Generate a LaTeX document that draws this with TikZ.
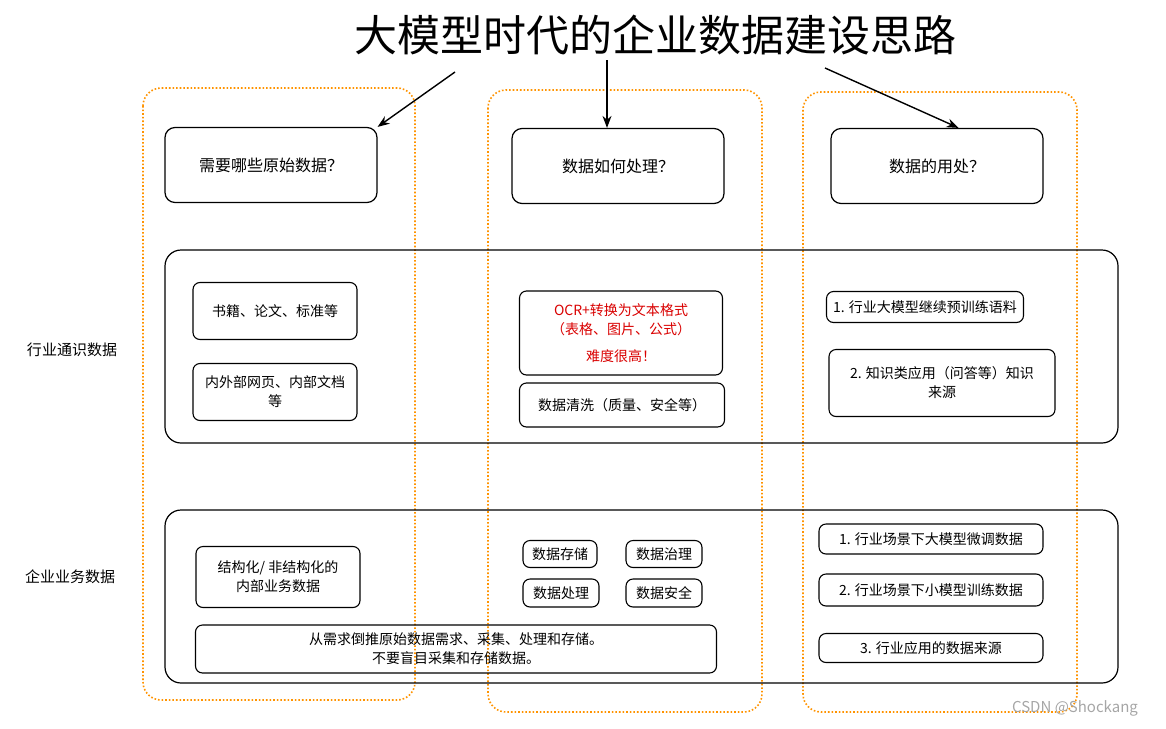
\documentclass[tikz,border=0pt]{standalone}
\usepackage{fontspec}
\setmainfont{Noto Sans CJK SC}
\usetikzlibrary{arrows.meta}

\begin{document}
\begin{tikzpicture}[x=1pt,y=-1pt]
	\tikzstyle{column} = [draw=orange!85!yellow, line width=1.6pt, dotted, rounded corners=18pt]
	\tikzstyle{header} = [draw=black, line width=1.2pt, rounded corners=10pt, font=\fontsize{16}{19}\selectfont]
	\tikzstyle{row} = [draw=black, line width=1.2pt, rounded corners=16pt]
	\tikzstyle{item} = [draw=black, line width=1.1pt, rounded corners=7pt, align=center, font=\fontsize{14}{19}\selectfont]
	\tikzstyle{hard} = [item, text=red!85!black]
	\tikzstyle{rowlabel} = [font=\fontsize{15}{18}\selectfont]
	\tikzstyle{arrow} = [line width=1.4pt, -{Stealth[length=12pt,width=9pt]}]
	\useasboundingbox (0,0) rectangle (1166,728);
	% title and columns
	\node (title) at (655,35) {\fontsize{43}{48}\selectfont 大模型时代的企业数据建设思路};
	\draw [column] (143,88) rectangle (415,700);
	\draw [column] (488,90) rectangle (762,712);
	\draw [column] (803,92) rectangle (1077,712);
	\coordinate (t1) at (455,72);
	\coordinate (t2) at (607,60);
	\coordinate (t3) at (825,68);
	% headers
	\node (needRaw) [header, minimum width=212pt, minimum height=75pt] at (271,165) {需要哪些原始数据？};
	\node (howProc) [header, minimum width=212pt, minimum height=75pt] at (618,166) {数据如何处理？};
	\node (useData) [header, minimum width=212pt, minimum height=75pt] at (937,166) {数据的用处？};
	\draw [arrow] (t1) -- (needRaw.north east);
	\draw [arrow] (t2) -- (howProc.north -| t2);
	\draw [arrow] (t3) -- ([xshift=-85pt]useData.north east);
	% rows
	\draw [row] (165,250) rectangle (1118,443);
	\draw [row] (165,510) rectangle (1118,683);
	\node (generalData) [rowlabel] at (72,350) {行业通识数据};
	\node (bizData) [rowlabel] at (70,577) {企业业务数据};
	% row 1
	\node (books) [item, minimum width=164pt, minimum height=57pt] at (275,311) {书籍、论文、标准等};
	\node (webDocs) [item, minimum width=164pt, minimum height=57pt] at (275,392) {内外部网页、内部文档\\等};
	\node (ocr) [hard, minimum width=203pt, minimum height=84pt] at (621,333) {OCR+转换为文本格式\\（表格、图片、公式）\\[8pt]难度很高！};
	\node (clean) [item, minimum width=205pt, minimum height=44pt] at (622,405) {数据清洗（质量、安全等）};
	\node (pretrain) [item, minimum width=197pt, minimum height=31pt] at (925,307) {1. 行业大模型继续预训练语料};
	\node (qaSource) [item, minimum width=226pt, minimum height=67pt] at (942,383) {2. 知识类应用（问答等）知识\\来源};
	% row 2
	\node (structured) [item, minimum width=164pt, minimum height=61pt] at (278,577) {结构化/ 非结构化的\\内部业务数据};
	\node (reverse) [item, minimum width=521pt, minimum height=48pt] at (456,649) {从需求倒推原始数据需求、采集、处理和存储。\\不要盲目采集和存储数据。};
	\node (store) [item, minimum width=74pt, minimum height=27pt] at (560,554) {数据存储};
	\node (govern) [item, minimum width=76pt, minimum height=27pt] at (664,554) {数据治理};
	\node (process) [item, minimum width=76pt, minimum height=28pt] at (561,593) {数据处理};
	\node (secure) [item, minimum width=76pt, minimum height=28pt] at (664,593) {数据安全};
	\node (finetune) [item, minimum width=224pt, minimum height=30pt] at (931,539) {1. 行业场景下大模型微调数据};
	\node (smallModel) [item, minimum width=224pt, minimum height=32pt] at (931,590) {2. 行业场景下小模型训练数据};
	\node (appSource) [item, minimum width=224pt, minimum height=29pt] at (931,648) {3. 行业应用的数据来源};
	\node (mark) [text=gray!70, font=\fontsize{15}{17}\selectfont] at (1075,708) {CSDN @Shockang};
\end{tikzpicture}
\end{document}
